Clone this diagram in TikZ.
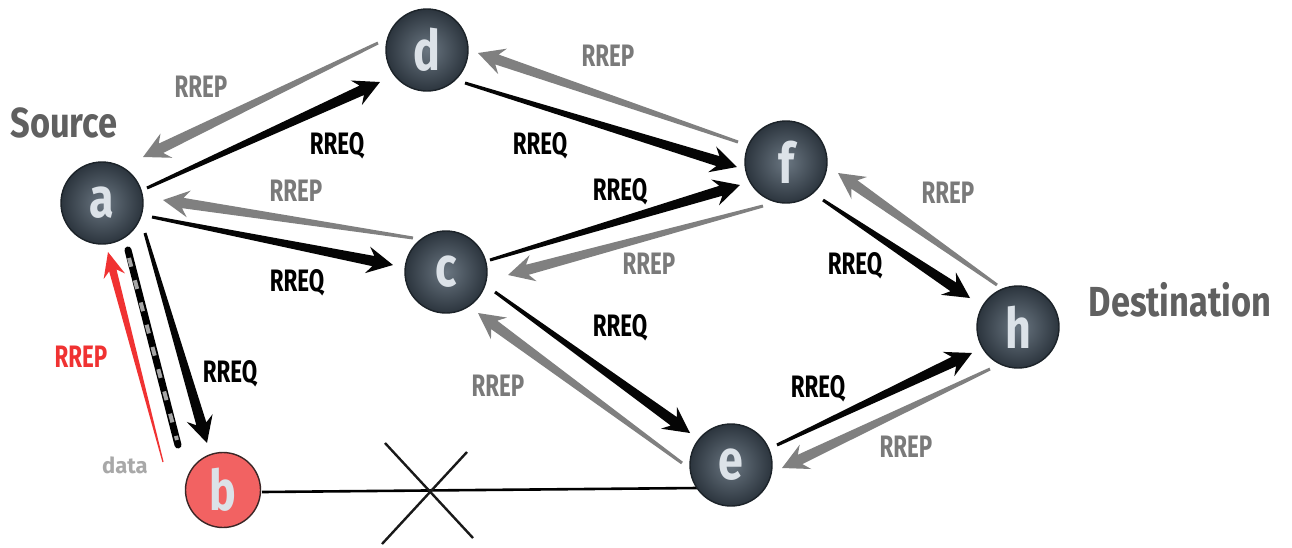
\documentclass[tikz,border=0pt]{standalone}
\usepackage{fontspec}
\usepackage{graphicx}
\usetikzlibrary{calc}

% Fonts: condensed bold sans for labels, node letters and titles
\newfontfamily\lblfont[FakeStretch=0.72]{Fira Sans}
\newfontfamily\titlefont[FakeStretch=0.82]{Fira Sans}
\newfontfamily\ballfont[FakeStretch=0.8]{Fira Sans}
\newfontfamily\plainfont{Fira Sans}

\definecolor{reqblack}{HTML}{050505}
\definecolor{repgray}{HTML}{808080}
\definecolor{labgray}{HTML}{7A7A7A}
\definecolor{titlegray}{HTML}{606060}
\definecolor{datagray}{HTML}{A8A8A8}
\definecolor{replyred}{HTML}{F03232}
\definecolor{ballin}{HTML}{6A7681}
\definecolor{ballout}{HTML}{2C353E}
\definecolor{ballrim}{HTML}{1C2329}
\definecolor{balltext}{HTML}{DCE2E8}
\definecolor{redfill}{HTML}{F26262}
\definecolor{redrim}{HTML}{3A2626}

% Tapered arrow geometry (pt): tail half-width, shaft half-width at the head,
% head half-width, head length to the notch, barb sweep
\def\tpTail{1.5}\def\tpShaft{5.2}\def\tpHead{13.5}\def\tpLen{20}\def\tpSweep{6}

% \taperarrow{fill style}{tail point}{tip point}
\newcommand\taperarrow[3]{%
  \path (#2) coordinate (tpS) (#3) coordinate (tpE);%
  \pgfpointdiff{\pgfpointanchor{tpS}{center}}{\pgfpointanchor{tpE}{center}}%
  \pgfgetlastxy{\tpdx}{\tpdy}%
  \pgfmathsetmacro\tpang{atan2(\tpdy,\tpdx)}%
  \pgfmathsetmacro\tplength{veclen(\tpdx,\tpdy)}%
  \pgfmathsetmacro\tpnotch{\tplength-\tpLen}%
  \pgfmathsetmacro\tpbarb{\tplength-\tpLen-\tpSweep}%
  \fill[#1, shift={(tpS)}, rotate=\tpang]
    (0pt,-\tpTail pt) -- (\tpnotch pt,-\tpShaft pt) -- (\tpbarb pt,-\tpHead pt)
    -- (\tplength pt,0pt) -- (\tpbarb pt,\tpHead pt) -- (\tpnotch pt,\tpShaft pt)
    -- (0pt,\tpTail pt) -- cycle;%
}

\tikzset{
  ball/.style={circle, minimum size=82pt, inner sep=0pt, draw=ballrim, line width=1.4pt,
    inner color=ballin, outer color=ballout, text=balltext,
    font=\ballfont\bfseries\fontsize{56}{56}\selectfont},
  redball/.style={circle, minimum size=75pt, inner sep=0pt, draw=redrim, line width=1.4pt,
    fill=redfill, text=balltext, font=\ballfont\bfseries\fontsize{56}{56}\selectfont},
  req/.style={inner sep=0pt, text=black, font=\lblfont\bfseries\fontsize{31}{31}\selectfont},
  rep/.style={req, text=labgray},
  redrep/.style={req, text=replyred},
  title/.style={inner sep=0pt, text=titlegray, font=\titlefont\bfseries\fontsize{42}{42}\selectfont},
  datalbl/.style={inner sep=0pt, text=datagray, font=\plainfont\bfseries\fontsize{22}{22}\selectfont},
  reqarrow/.style={fill=reqblack},
  reparrow/.style={fill=repgray},
  redarrow/.style={fill=replyred},
  link/.style={draw=black, line width=2.6pt},
  crossline/.style={draw=black!90, line width=2.4pt},
}

\begin{document}
\begin{tikzpicture}[x=1pt, y=-1pt]
\useasboundingbox[fill=white] (0,0) rectangle (1292,547);

% node positions
\coordinate (pa) at (102,203);
\coordinate (pb) at (223,490);
\coordinate (pc) at (446,272);
\coordinate (pd) at (427,50);
\coordinate (pe) at (731,465);
\coordinate (pf) at (786,162);
\coordinate (ph) at (1018,327);
\coordinate (X) at (428,490);

% broken link b -- e
\draw[link] ($(pb)+(39,2)$) -- ($(pe)+(-34,23)$);
\draw[crossline] ($(X)+(-43,-47)$) -- ($(X)+(45,48)$);
\draw[crossline] ($(X)+(39,-38)$) -- ($(X)+(-46,54)$);

% data path a -- b
\draw[line width=7pt, black, line cap=round] ($(pa)+(26,47)$) -- ($(pb)+(-45,-45)$);
\draw[line width=4pt, gray!70, dash pattern=on 9pt off 14pt] ($(pa)+(27,55)$) -- ($(pb)+(-46,-50)$);

% route requests
\taperarrow{reqarrow}{$(pa)+(45,-15)$}{$(pd)+(-47,32)$}
\taperarrow{reqarrow}{$(pd)+(38,33)$}{$(pf)+(-49,5)$}
\taperarrow{reqarrow}{$(pa)+(50,14)$}{$(pc)+(-53,-7)$}
\taperarrow{reqarrow}{$(pc)+(44,-12)$}{$(pf)+(-46,23)$}
\taperarrow{reqarrow}{$(pf)+(37,38)$}{$(ph)+(-48,-29)$}
\taperarrow{reqarrow}{$(pc)+(49,20)$}{$(pe)+(-41,-32)$}
\taperarrow{reqarrow}{$(pe)+(46,-20)$}{$(ph)+(-46,26)$}
\taperarrow{reqarrow}{$(pa)+(43,30)$}{$(pb)+(-16,-47)$}

% route replies
\taperarrow{reparrow}{$(pd)+(-49,-7)$}{$(pa)+(41,-46)$}
\taperarrow{reparrow}{$(pf)+(-48,-20)$}{$(pd)+(51,3)$}
\taperarrow{reparrow}{$(pc)+(-33,-34)$}{$(pa)+(61,-3)$}
\taperarrow{reparrow}{$(pf)+(-23,44)$}{$(pc)+(62,3)$}
\taperarrow{reparrow}{$(ph)+(-21,-42)$}{$(pf)+(52,11)$}
\taperarrow{reparrow}{$(pe)+(-49,-2)$}{$(pc)+(32,41)$}
\taperarrow{reparrow}{$(ph)+(-28,42)$}{$(pe)+(51,3)$}
\begingroup
\def\tpTail{0.6}\def\tpShaft{3.8}\def\tpHead{11}\def\tpLen{19}\def\tpSweep{6}
\taperarrow{redarrow}{$(pb)+(-60,-28)$}{$(pa)+(6,49)$}
\endgroup

% nodes
\node[ball] (a) at (pa) {a};
\node[redball] (b) at (pb) {b};
\node[ball] (c) at (pc) {c};
\node[ball] (d) at (pd) {d};
\node[ball] (e) at (pe) {e};
\node[ball] (f) at (pf) {f};
\node[ball] (h) at (ph) {h};

% titles
\node[title] (src) at (64,123) {Source};
\node[title] (dst) at (1180,300) {Destination};

% message labels
\node[rep] (p1) at (201,87) {RREP};
\node[req] (q1) at (337,146) {RREQ};
\node[rep] (p2) at (608,56) {RREP};
\node[req] (q2) at (540,146) {RREQ};
\node[req] (q3) at (620,192) {RREQ};
\node[rep] (p3) at (296,191) {RREP};
\node[req] (q4) at (297,283) {RREQ};
\node[rep] (p4) at (649,264) {RREP};
\node[rep] (p5) at (948,193) {RREP};
\node[req] (q5) at (855,266) {RREQ};
\node[req] (q6) at (620,328) {RREQ};
\node[rep] (p6) at (498,386) {RREP};
\node[req] (q7) at (818,389) {RREQ};
\node[rep] (p7) at (906,447) {RREP};
\node[redrep] (p8) at (81,357) {RREP};
\node[req] (q8) at (230,374) {RREQ};
\node[datalbl] (dl) at (125,465) {data};
\end{tikzpicture}
\end{document}
